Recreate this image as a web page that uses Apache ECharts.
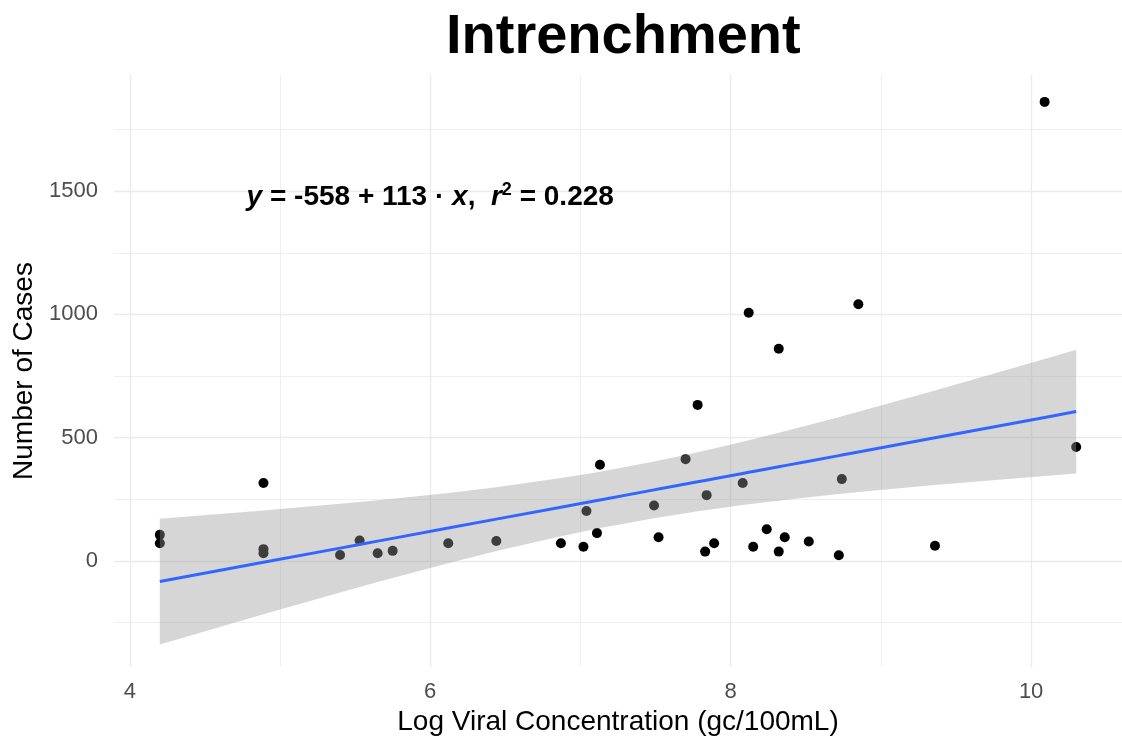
<!DOCTYPE html>
<html>
<head>
<meta charset="utf-8">
<title>Intrenchment</title>
<script src="https://cdn.jsdelivr.net/npm/echarts@6/dist/echarts.min.js"></script>
<style>
  html, body { margin: 0; padding: 0; background: #fff; }
  #chart { width: 1122px; height: 747px; }
</style>
</head>
<body>
<div id="chart"></div>
<script>
// ---------------------------------------------------------------------------
// Data
// ---------------------------------------------------------------------------
const logConcentration = [
  4.20, 4.20, 4.89, 4.89, 4.89, 5.40, 5.53, 5.65, 5.75, 6.12,
  6.44, 6.87, 7.02, 7.04, 7.11, 7.13, 7.49, 7.52, 7.70, 7.78,
  7.84, 7.83, 7.89, 8.08, 8.12, 8.15, 8.24, 8.32, 8.32, 8.36,
  8.52, 8.74, 8.72, 8.85, 9.36, 10.09, 10.30
];
const caseCounts = [
  106, 72, 316, 48, 31, 24, 83, 31, 41, 72,
  81, 72, 58, 203, 113, 390, 225, 96, 413, 633,
  267, 38, 72, 316, 1007, 58, 129, 861, 38, 96,
  79, 332, 23, 1041, 62, 1862, 462
];

// fitted line, as printed on the chart
const fitIntercept = -558;
const fitSlope = 113;
const rSquared = 0.228;
const tQuantile = 2.03; // t(0.975, n - 2)

const xMajorTicks = [4, 6, 8, 10];
const xMinorTicks = [5, 7, 9];
const yMajorTicks = [0, 500, 1000, 1500];
const yMinorTicks = [-250, 250, 750, 1250, 1750];

const FONT = "'Liberation Sans', Arial, sans-serif";

// ---------------------------------------------------------------------------
// Confidence band of the fit (computed from the points)
// ---------------------------------------------------------------------------
const n = logConcentration.length;
const xMean = logConcentration.reduce((s, v) => s + v, 0) / n;
const sxx = logConcentration.reduce((s, v) => s + (v - xMean) ** 2, 0);
const rss = logConcentration.reduce((s, v, i) => {
  const r = caseCounts[i] - (fitIntercept + fitSlope * v);
  return s + r * r;
}, 0);
const sigma = Math.sqrt(rss / (n - 2));

const bandX = Array.from(new Set(logConcentration)).sort((a, b) => a - b);
const band = bandX.map((x) => {
  const fit = fitIntercept + fitSlope * x;
  const half = tQuantile * sigma * Math.sqrt(1 / n + (x - xMean) ** 2 / sxx);
  return [x, fit - half, fit + half, fit];
});

const points = logConcentration.map((x, i) => [x, caseCounts[i]]);

const equation =
  '{i|y} = -' + Math.abs(fitIntercept) + ' + ' + fitSlope + ' \u00b7 {i|x},  {i|r}{s|2} = ' + rSquared;

// ---------------------------------------------------------------------------
// Chart
// ---------------------------------------------------------------------------
const chart = echarts.init(document.getElementById('chart'));

const gridColor = '#ebebeb';
const tickText = { color: '#4d4d4d', fontSize: 22, fontFamily: FONT, formatter: (v) => String(v) };

chart.setOption({
  animation: false,
  backgroundColor: '#ffffff',
  title: {
    text: 'Intrenchment',
    left: 441,
    top: 5,
    textStyle: { fontSize: 56, fontWeight: 'bold', color: '#000', fontFamily: FONT },
  },
  grid: { left: 114, right: -5, top: 75, bottom: 80 },
  xAxis: [
    {
      type: 'value',
      min: 3.895,
      max: 10.605,
      name: 'Log Viral Concentration (gc/100mL)',
      nameLocation: 'middle',
      nameGap: 38,
      nameTextStyle: { fontSize: 28, color: '#000', fontFamily: FONT },
      axisLine: { show: false },
      axisTick: { show: false, customValues: xMajorTicks },
      axisLabel: { ...tickText, customValues: xMajorTicks, margin: 14 },
      splitLine: { show: true, lineStyle: { color: gridColor, width: 1.4 } },
    },
    {
      type: 'value',
      min: 3.895,
      max: 10.605,
      position: 'top',
      axisLine: { show: false },
      axisTick: { show: false, customValues: xMinorTicks },
      axisLabel: { show: false },
      splitLine: { show: true, lineStyle: { color: gridColor, width: 0.8 } },
    },
  ],
  yAxis: [
    {
      type: 'value',
      min: -430,
      max: 1971,
      name: 'Number of Cases',
      nameLocation: 'middle',
      nameGap: 72,
      nameTextStyle: { fontSize: 28, color: '#000', fontFamily: FONT },
      axisLine: { show: false },
      axisTick: { show: false, customValues: yMajorTicks },
      axisLabel: { ...tickText, customValues: yMajorTicks, margin: 16 },
      splitLine: { show: true, lineStyle: { color: gridColor, width: 1.4 } },
    },
    {
      type: 'value',
      min: -430,
      max: 1971,
      position: 'right',
      axisLine: { show: false },
      axisTick: { show: false, customValues: yMinorTicks },
      axisLabel: { show: false },
      splitLine: { show: true, lineStyle: { color: gridColor, width: 0.8 } },
    },
  ],
  series: [
    {
      name: 'cases',
      type: 'scatter',
      data: points,
      symbol: 'circle',
      symbolSize: 10,
      itemStyle: { color: '#000', opacity: 1 },
      z: 2,
    },
    {
      name: 'confidence band',
      type: 'custom',
      data: band,
      encode: { x: 0, y: [1, 2] },
      clip: true,
      z: 3,
      renderItem: (params, api) => {
        if (params.dataIndex !== 0) return null;
        const upper = band.map((b) => api.coord([b[0], b[2]]));
        const lower = band.map((b) => api.coord([b[0], b[1]])).reverse();
        return {
          type: 'polygon',
          shape: { points: upper.concat(lower) },
          style: { fill: 'rgba(153,153,153,0.4)' },
        };
      },
    },
    {
      name: 'fit',
      type: 'line',
      data: band.map((b) => [b[0], b[3]]),
      showSymbol: false,
      lineStyle: { color: '#3366ff', width: 3 },
      z: 4,
    },
    {
      name: 'equation',
      type: 'scatter',
      data: [[6, 1475]],
      symbolSize: 0,
      silent: true,
      itemStyle: { opacity: 1 },
      z: 5,
      label: {
        show: true,
        position: 'inside',
        formatter: equation,
        color: '#000',
        opacity: 1,
        fontSize: 28,
        fontWeight: 'bold',
        fontFamily: FONT,
        rich: {
          i: { fontStyle: 'italic', fontWeight: 'bold', fontSize: 28, fontFamily: FONT, color: '#000' },
          s: { fontWeight: 'bold', fontSize: 18, fontFamily: FONT, color: '#000', verticalAlign: 'top', padding: [0, 0, 14, 0] },
        },
      },
    },
  ],
});

window.addEventListener('resize', () => chart.resize());
</script>
</body>
</html>
